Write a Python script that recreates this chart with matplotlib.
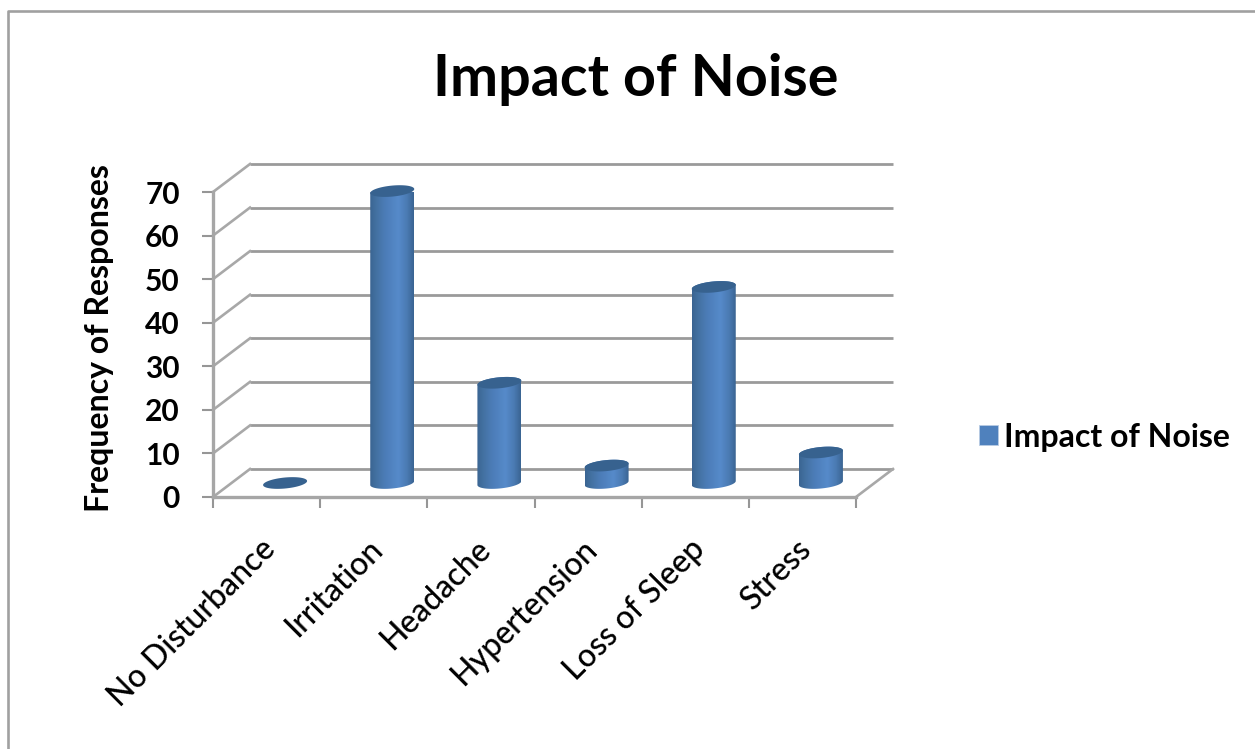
import numpy as np
import matplotlib
matplotlib.use("Agg")
import matplotlib.pyplot as plt
from matplotlib.colors import LinearSegmentedColormap
from matplotlib.lines import Line2D
from matplotlib.patches import Patch, PathPatch
from matplotlib.path import Path

categories = ["No Disturbance", "Irritation", "Headache", "Hypertension", "Loss of Sleep", "Stress"]
responses = [0, 67, 23, 4, 45, 7]
y_ticks = [0, 10, 20, 30, 40, 50, 60, 70]
chart_title = "Impact of Noise"
y_title = "Frequency of Responses"
series_name = "Impact of Noise"

W, H = 1255, 749
plt.rcParams["font.family"] = ["Lato", "DejaVu Sans"]
fig = plt.figure(figsize=(W / 100, H / 100), dpi=100, facecolor="white")

# Front plane of the chart box, in figure pixels
left, right, bottom, top = 213, 856, 497, 192
ax = fig.add_axes([left / W, 1 - bottom / H, (right - left) / W, (bottom - top) / H])
n = len(categories)
ax.patch.set_visible(False)
for side in ("top", "right"):
    ax.spines[side].set_visible(False)
for side in ("left", "bottom"):
    ax.spines[side].set_color("#a6a6a6")
    ax.spines[side].set_linewidth(2.4)

px_x = n / (right - left)    # data units per pixel, horizontal
px_y = 70 / (bottom - top)   # data units per pixel, vertical
depth_x = 37 * px_x
depth_y = 28 * px_y

GRID = "#9a9a9a"
WALL = "#a8a8a8"

# Back wall gridlines and the slanted side wall lines
for v in y_ticks:
    ax.add_line(Line2D([depth_x, n + depth_x], [v + depth_y, v + depth_y], color=GRID, lw=2.0,
                       clip_on=False, zorder=1, solid_capstyle="butt"))
    ax.add_line(Line2D([0, depth_x], [v, v + depth_y], color=WALL, lw=1.9,
                       clip_on=False, zorder=1))
ax.add_line(Line2D([n, n + depth_x], [0, depth_y], color=WALL, lw=1.9,
                   clip_on=False, zorder=1))

# Cylinders standing in the middle of the floor
cmap = LinearSegmentedColormap.from_list(
    "cyl",
    [(0.0, "#3a6492"), (0.12, "#42709f"), (0.35, "#4c7db8"), (0.65, "#568aca"),
     (0.85, "#4a7ab2"), (1.0, "#3a6492")])
gradient = np.linspace(0, 1, 128).reshape(1, -1)
half_w = 22 * px_x
rad_y = 5.5 * px_y
tilt = 2 * px_y
t = np.linspace(0, 2 * np.pi, 80)

for i, value in enumerate(responses):
    xc = i + 0.5 + depth_x / 2
    yc = depth_y / 2
    if value > 0:
        # Body outline: lower half of the base ellipse, upper half of the top one
        s = np.linspace(np.pi, 2 * np.pi, 50)
        s2 = np.linspace(0, np.pi, 50)
        outline = np.column_stack([
            np.r_[xc + half_w * np.cos(s), xc + half_w * np.cos(s2)],
            np.r_[yc + rad_y * np.sin(s) + tilt * np.cos(s),
                  value + yc + rad_y * np.sin(s2) + tilt * np.cos(s2)],
        ])
        body = PathPatch(Path(np.vstack([outline, outline[:1]]), closed=True),
                         fc="none", ec="none")
        ax.add_patch(body)
        img = ax.imshow(gradient,
                        extent=[xc - half_w, xc + half_w, yc - 2 * rad_y, value + yc + 2 * rad_y],
                        aspect="auto", cmap=cmap, zorder=3, interpolation="bilinear")
        img.set_clip_path(body)
    ax.fill(xc + half_w * np.cos(t), value + yc + rad_y * np.sin(t) + tilt * np.cos(t),
            color="#37628f", zorder=4, lw=0, clip_on=False)
ax.set_xlim(0, n)
ax.set_ylim(0, 70)

# Axes ticks and labels
ax.set_xticks(range(n + 1))
ax.set_xticklabels([])
ax.set_yticks(y_ticks)
ax.set_yticklabels([str(v) for v in y_ticks], fontsize=21.5, fontweight="bold", color="black")
ax.tick_params(axis="x", length=8, width=1.5, color="#969696")
ax.tick_params(axis="y", length=8, width=1.5, color="#969696", pad=16)

for i, label in enumerate(categories):
    ax.annotate(label, xy=(i + 0.5, 0), xycoords=ax.get_xaxis_transform(),
                xytext=(-6, -37), textcoords="offset pixels",
                rotation=45, rotation_mode="anchor", ha="right", va="top",
                fontsize=23, color="black", fontweight="medium")

fig.text(100 / W, 1 - 338 / H, y_title, rotation=90, ha="center", va="center",
         fontsize=23, fontweight="bold", color="black")
fig.text(636 / W, 1 - 79 / H, chart_title, ha="center", va="center",
         fontsize=41.4, fontweight="bold", color="black")

fig.legend(handles=[Patch(facecolor="#4f81bd", edgecolor="#b8cce4", linewidth=0.6, label=series_name)],
           loc="center left", bbox_to_anchor=(979 / W, 1 - 437 / H), frameon=False,
           handlelength=0.6, handleheight=0.6, handletextpad=0.18,
           borderpad=0, borderaxespad=0, prop={"size": 23, "weight": "bold"})

# Outer chart frame runs off the top right and bottom left of the canvas
fig.add_artist(Line2D([8 / W, 8 / W, 1], [0, 1 - 11 / H, 1 - 11 / H], color="#a0a0a0",
                      lw=1.9, transform=fig.transFigure))

fig.savefig("out.png", dpi=100)
